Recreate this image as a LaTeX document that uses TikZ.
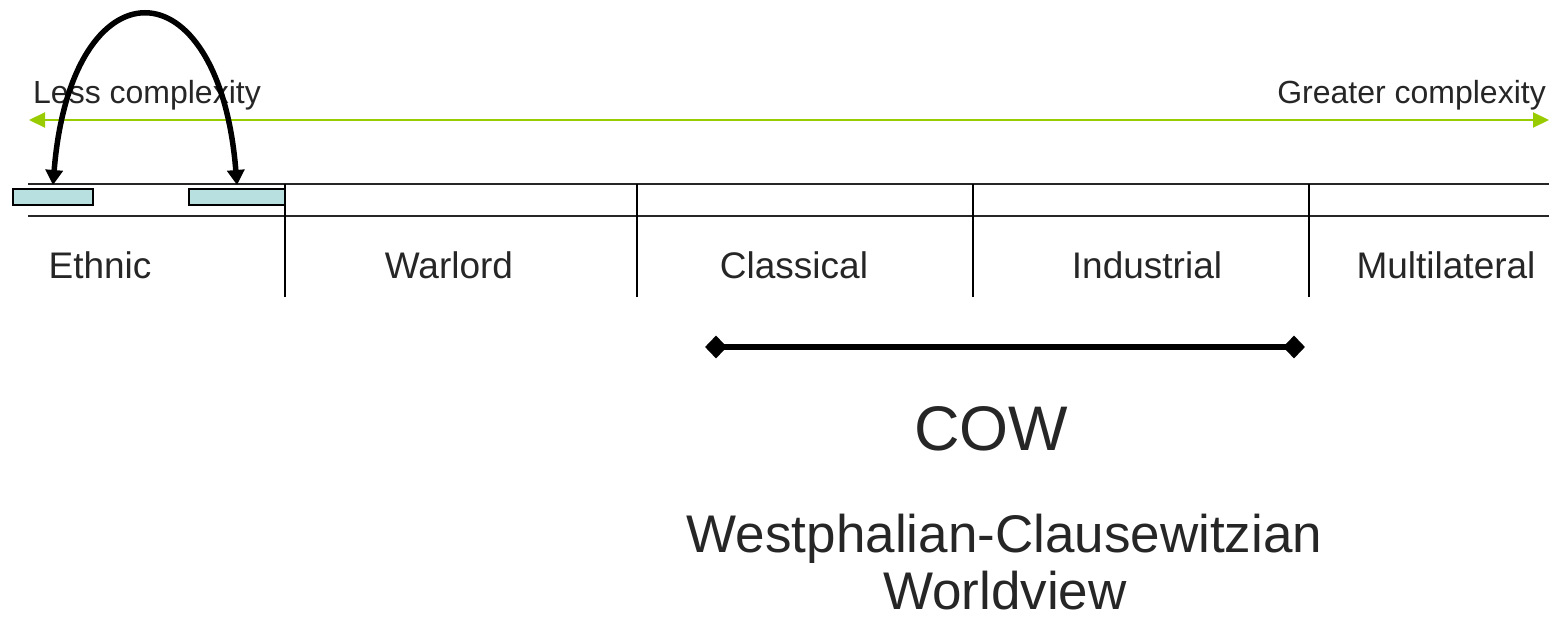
\documentclass[tikz,border=0pt]{standalone}
\usepackage{fontspec}
\setmainfont{Liberation Sans}
\usetikzlibrary{arrows.meta,shapes.geometric}
\definecolor{axisgreen}{RGB}{153,204,0}
\definecolor{boxfill}{RGB}{185,224,225}
\definecolor{txt}{RGB}{38,38,38}
\tikzset{
  lbl/.style={anchor=base,text=txt,font=\fontsize{37}{44}\selectfont,inner sep=0},
  side/.style={text=txt,font=\fontsize{32}{38}\selectfont,inner sep=0},
  rule/.style={line width=1.6pt,black!85},
  divider/.style={line width=2pt,black},
  rectbox/.style={draw=black,line width=2pt,fill=boxfill,minimum height=16pt,inner sep=0,rectangle},
  endmark/.style={diamond,fill=black,minimum width=22pt,minimum height=23pt,inner sep=0},
}
\begin{document}
\begin{tikzpicture}[x=1pt,y=-1pt]
\useasboundingbox (0,0) rectangle (1554,618);
% complexity axis
\node[side,anchor=base west] (less) at (33,103) {Less complexity};
\node[side,anchor=base east] (greater) at (1546,103) {Greater complexity};
\coordinate (gl) at (29,120);
\coordinate (gr) at (1549,120);
\draw[axisgreen,line width=2pt,{Triangle[length=16pt,width=15pt]}-{Triangle[length=16pt,width=15pt]}] (gl) -- (gr);
% horizontal rules
\coordinate (h1l) at (28,184); \coordinate (h1r) at (1549,184);
\coordinate (h2l) at (28,216); \coordinate (h2r) at (1549,216);
\draw[rule] (h1l) -- (h1r);
\draw[rule] (h2l) -- (h2r);
% dividers
\foreach \x [count=\i] in {285,637,973,1309}{
  \coordinate (vt\i) at (\x,184);
  \coordinate (vb\i) at (\x,297);
  \draw[divider] (vt\i) -- (vb\i);
}
% boxes
\node[rectbox,minimum width=80pt] (rl) at (53,197) {};
\node[rectbox,minimum width=96pt] (rr) at (237,197) {};
% arc
\coordinate (al) at ([yshift=3pt]rl.north);
\coordinate (ar) at ([yshift=3pt]rr.north);
\draw[line width=5.5pt,{Triangle[length=15pt,width=17pt]}-{Triangle[length=15pt,width=17pt]}]
  (al) .. controls +(18,-225) and +(-18,-225) .. (ar);
% labels
\node[lbl] (ethnic) at (100,278) {Ethnic};
\node[lbl] (warlord) at (449,278) {Warlord};
\node[lbl] (classical) at (794,278) {Classical};
\node[lbl] (industrial) at (1147,278) {Industrial};
\node[lbl] (multi) at (1446,278) {Multilateral};
% COW bar
\node[endmark] (dl) at (716,347) {};
\node[endmark] (dr) at (1294,347) {};
\draw[line width=6pt] (dl.center) -- (dr.center);
\node[anchor=base,text=txt,font=\fontsize{63}{70}\selectfont,inner sep=0] (cow) at (991,450) {COW};
\node[anchor=base,text=txt,font=\fontsize{53}{60}\selectfont,inner sep=0] (west) at (1004.5,552) {Westphalian-Clausewitzian};
\node[anchor=base,text=txt,font=\fontsize{53}{60}\selectfont,inner sep=0] (world) at (1005,609) {Worldview};
\end{tikzpicture}
\end{document}
